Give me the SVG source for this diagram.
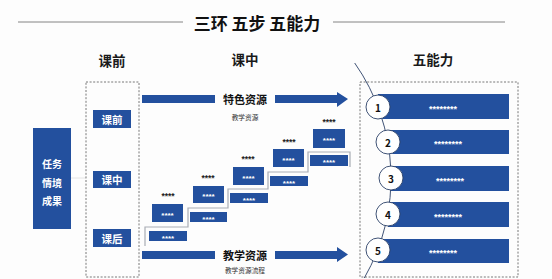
<svg xmlns="http://www.w3.org/2000/svg" width="552" height="279" viewBox="0 0 552 279">
<style>
text{font-family:"Noto Sans CJK SC","Noto Sans",sans-serif;text-anchor:middle;dominant-baseline:central}
.h{font-size:13.5px;font-weight:bold;fill:#1a1a1a}
.b{fill:#23509e}
.w{fill:#fff;font-weight:bold}
.dash{fill:none;stroke:#555;stroke-width:0.8;stroke-dasharray:2 1.6}
.st{font-family:"Liberation Sans",sans-serif;font-size:8px;font-weight:bold;fill:#fff}
.bs{font-family:"Liberation Sans",sans-serif;font-size:8.5px;font-weight:bold;fill:#222}
.ls{font-family:"Liberation Sans",sans-serif;font-size:9px;font-weight:bold;fill:#fff}
.circ{fill:#fff;stroke:#2a3f66;stroke-width:0.9}
.num{font-size:10px;font-weight:bold;fill:#111}
.sub{font-size:6.7px;fill:#333}
</style>
<rect width="552" height="279" fill="#fdfdfd"/>
<g id="title">
<line x1="18" y1="22" x2="183" y2="22" stroke="#666" stroke-width="0.8"/>
<line x1="333" y1="22" x2="505" y2="22" stroke="#666" stroke-width="0.8"/>
<text x="257" y="22" style="font-size:17px;font-weight:bold;fill:#111">三环 五步 五能力</text>
</g>
<g id="headers">
<text class="h" x="112" y="60">课前</text>
<text class="h" x="245" y="59">课中</text>
<text class="h" x="433" y="59">五能力</text>
</g>
<g id="connectors">
<line x1="71" y1="178" x2="86" y2="178" stroke="#e4e4e4" stroke-width="1"/>
<polyline points="145,246 145,227 188,227 188,208 228,208 228,189 268,189 268,172 308,172 308,152 350,152 350,167" fill="none" stroke="#a9adb5" stroke-width="1.2"/>
<path d="M354.7,63 A200.4,200.4 0 0 1 364.3,278" fill="none" stroke="#2a3f66" stroke-width="0.9"/>
</g>
<g id="task">
<rect class="b" x="33" y="128" width="38" height="101"/>
<text class="w" x="52" y="163" style="font-size:10px">任务</text>
<text class="w" x="52" y="182" style="font-size:10px">情境</text>
<text class="w" x="52" y="200" style="font-size:10px">成果</text>
</g>
<g id="pre-class">
<rect class="dash" x="86" y="82" width="53" height="195"/>
<rect class="b" x="93" y="110" width="38" height="18"/>
<text class="w" x="112" y="119" style="font-size:10.5px">课前</text>
<rect class="b" x="93" y="171" width="38" height="17"/>
<text class="w" x="112" y="179.5" style="font-size:10.5px">课中</text>
<rect class="b" x="93" y="229" width="38" height="18"/>
<text class="w" x="112" y="238" style="font-size:10.5px">课后</text>
</g>
<g id="arrow-top">
<rect class="b" x="142" y="95" width="73" height="8"/>
<path class="b" d="M275,95 H337 V92 L348,99 L337,107 V103 H275 Z"/>
<text x="245" y="99" style="font-size:11px;font-weight:bold;fill:#111">特色资源</text>
<text class="sub" x="245" y="117">教学资源</text>
</g>
<g id="arrow-bottom">
<rect class="b" x="142" y="251" width="73" height="8"/>
<path class="b" d="M275,251 H337 V247 L348,254.5 L337,262 V259 H275 Z"/>
<text x="245" y="255" style="font-size:11px;font-weight:bold;fill:#111">教学资源</text>
<text class="sub" x="245" y="270">教学资源流程</text>
</g>
<g id="step1">
<text class="bs" x="168" y="196">****</text>
<rect class="b" x="152" y="204" width="31" height="18"/>
<text class="st" x="167.5" y="215">****</text>
<rect class="b" x="149" y="231" width="38" height="10"/>
<text class="st" x="168" y="238">****</text>
</g>
<g id="step2">
<text class="bs" x="208" y="178">****</text>
<rect class="b" x="193" y="186" width="31" height="17"/>
<text class="st" x="208.5" y="196.5">****</text>
<rect class="b" x="190" y="212" width="37" height="10"/>
<text class="st" x="208.5" y="219">****</text>
</g>
<g id="step3">
<text class="bs" x="248" y="159">****</text>
<rect class="b" x="233" y="167" width="31" height="18"/>
<text class="st" x="248.5" y="178">****</text>
<rect class="b" x="230" y="193" width="38" height="10"/>
<text class="st" x="249" y="200">****</text>
</g>
<g id="step4">
<text class="bs" x="289" y="142">****</text>
<rect class="b" x="273" y="149" width="31" height="18"/>
<text class="st" x="288.5" y="160">****</text>
<rect class="b" x="270" y="176" width="38" height="10"/>
<text class="st" x="289" y="183">****</text>
</g>
<g id="step5">
<text class="bs" x="329" y="122">****</text>
<rect class="b" x="313" y="129" width="32" height="19"/>
<text class="st" x="329" y="140.5">****</text>
<rect class="b" x="310" y="155" width="38" height="11"/>
<text class="st" x="329" y="162.5">****</text>
</g>
<g id="abilities">
<rect class="dash" x="360" y="82" width="158" height="195"/>
</g>
<g id="ability1">
<rect class="b" x="378" y="94" width="131" height="25"/>
<text class="ls" x="443" y="108.5">********</text>
<circle class="circ" cx="378" cy="107" r="12"/>
<text class="num" x="378" y="107">1</text>
</g>
<g id="ability2">
<rect class="b" x="388" y="130" width="121" height="24"/>
<text class="ls" x="448" y="144">********</text>
<circle class="circ" cx="388" cy="142" r="12"/>
<text class="num" x="388" y="142">2</text>
</g>
<g id="ability3">
<rect class="b" x="391" y="166" width="118" height="25"/>
<text class="ls" x="450" y="180.5">********</text>
<circle class="circ" cx="391" cy="178" r="12"/>
<text class="num" x="391" y="178">3</text>
</g>
<g id="ability4">
<rect class="b" x="388" y="202" width="121" height="25"/>
<text class="ls" x="448" y="216.5">********</text>
<circle class="circ" cx="388" cy="214" r="12"/>
<text class="num" x="388" y="214">4</text>
</g>
<g id="ability5">
<rect class="b" x="378" y="239" width="131" height="24"/>
<text class="ls" x="443" y="253">********</text>
<circle class="circ" cx="378" cy="250" r="12"/>
<text class="num" x="378" y="250">5</text>
</g>
</svg>
